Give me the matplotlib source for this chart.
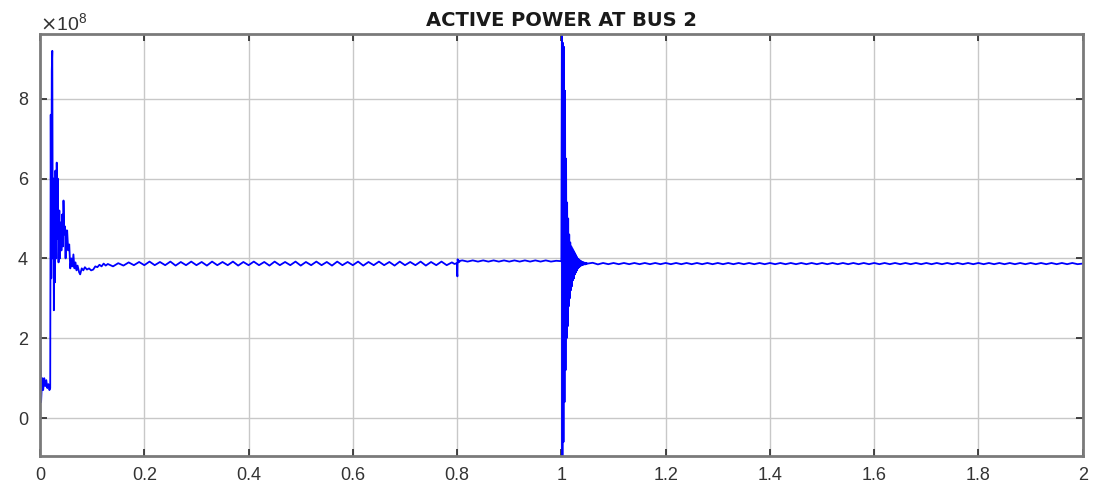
import numpy as np
import matplotlib
matplotlib.use("Agg")
import matplotlib.pyplot as plt
from matplotlib.ticker import ScalarFormatter

# values in units of 1e8 W
start_t = [0.0, 0.0003, 0.002, 0.004, 0.006, 0.008, 0.010, 0.012, 0.014, 0.016,
           0.018, 0.0195, 0.0205, 0.0215, 0.0225, 0.0235, 0.0245, 0.0255, 0.0265, 0.0275,
           0.0285, 0.0295, 0.031, 0.032, 0.033, 0.034, 0.0355, 0.037, 0.038, 0.0395,
           0.041, 0.0425, 0.044, 0.045, 0.0465, 0.048, 0.049, 0.050, 0.051, 0.052,
           0.054, 0.056, 0.058, 0.060, 0.062, 0.064, 0.066, 0.068, 0.070, 0.072,
           0.075, 0.077, 0.080, 0.083, 0.086, 0.090, 0.094, 0.098, 0.102, 0.106,
           0.110, 0.114, 0.118, 0.122, 0.126]
start_p = [-0.95, 2.0, 0.4, 1.0, 0.7, 1.0, 0.8, 0.95, 0.75, 0.85,
           0.7, 0.75, 7.6, 3.5, 8.7, 9.2, 4.0, 6.0, 2.7, 5.5,
           3.4, 6.2, 4.0, 6.4, 4.5, 6.0, 3.9, 5.2, 4.0, 4.9,
           4.2, 5.1, 4.3, 5.45, 4.6, 4.8, 4.0, 4.7, 4.3, 4.7,
           4.2, 4.35, 3.75, 4.0, 3.8, 4.1, 3.75, 3.9, 3.7, 3.82,
           3.65, 3.6, 3.75, 3.7, 3.78, 3.72, 3.75, 3.7, 3.72, 3.8,
           3.78, 3.84, 3.8, 3.87, 3.82]

# steady ripple 0.13 .. 0.79 s, one value every 0.01 s
ripple1_t0, ripple1_dt = 0.13, 0.01
ripple1_p = [3.86, 3.80, 3.88, 3.82, 3.90, 3.83, 3.91, 3.83, 3.92, 3.83,
             3.91, 3.83, 3.92, 3.82, 3.91, 3.83, 3.92, 3.83, 3.91, 3.82,
             3.92, 3.83, 3.91, 3.83, 3.92, 3.82, 3.91, 3.83, 3.92, 3.83,
             3.91, 3.82, 3.92, 3.83, 3.91, 3.83, 3.92, 3.82, 3.91, 3.83,
             3.92, 3.83, 3.91, 3.82, 3.92, 3.83, 3.91, 3.83, 3.92, 3.82,
             3.91, 3.83, 3.92, 3.83, 3.91, 3.82, 3.92, 3.83, 3.91, 3.83,
             3.92, 3.82, 3.91, 3.83, 3.92, 3.83, 3.90]

# small disturbance at 0.8 s
dip_t = [0.795, 0.7995, 0.800, 0.8005, 0.801, 0.802, 0.803, 0.804, 0.806]
dip_p = [3.86, 3.88, 3.62, 3.55, 3.98, 3.90, 3.95, 3.91, 3.94]

# plateau 0.81 .. 0.99 s
ripple2_t0, ripple2_dt = 0.81, 0.01
ripple2_p = [3.95, 3.92, 3.95, 3.92, 3.95, 3.92, 3.95, 3.92, 3.95, 3.92,
             3.95, 3.92, 3.95, 3.92, 3.95, 3.92, 3.95, 3.92, 3.94]

# fault burst 1.000 .. 1.050 s, one value every 1 ms
burst_t0, burst_dt = 1.0, 0.001
burst_p = [3.93, 9.62, -0.95, 9.4, -0.6, 9.3, 0.4, 8.2, 1.2, 6.5,
           2.0, 5.4, 2.3, 5.0, 2.8, 4.6, 3.0, 4.4, 3.2, 4.3,
           3.3, 4.25, 3.45, 4.2, 3.5, 4.15, 3.6, 4.1, 3.65, 4.05,
           3.7, 4.0, 3.75, 3.98, 3.78, 3.96, 3.8, 3.94, 3.82, 3.92,
           3.83, 3.91, 3.84, 3.9, 3.85, 3.89, 3.85, 3.89, 3.86, 3.88,
           3.87]

# steady ripple 1.06 .. 2.00 s
ripple3_t0, ripple3_dt = 1.06, 0.01
ripple3_p = [3.89, 3.85, 3.885, 3.855, 3.885, 3.855, 3.885, 3.855, 3.885, 3.855,
             3.885, 3.855, 3.885, 3.855, 3.885, 3.855, 3.885, 3.855, 3.885, 3.855,
             3.885, 3.855, 3.885, 3.855, 3.885, 3.855, 3.885, 3.855, 3.885, 3.855,
             3.885, 3.855, 3.885, 3.855, 3.885, 3.855, 3.885, 3.855, 3.885, 3.855,
             3.885, 3.855, 3.885, 3.855, 3.885, 3.855, 3.885, 3.855, 3.885, 3.855,
             3.885, 3.855, 3.885, 3.855, 3.885, 3.855, 3.885, 3.855, 3.885, 3.855,
             3.885, 3.855, 3.885, 3.855, 3.885, 3.855, 3.885, 3.855, 3.885, 3.855,
             3.885, 3.855, 3.885, 3.855, 3.885, 3.855, 3.885, 3.855, 3.885, 3.855,
             3.885, 3.855, 3.885, 3.855, 3.885, 3.855, 3.885, 3.855, 3.885, 3.855,
             3.885, 3.855, 3.885, 3.855, 3.87]


def sampled(t0, dt, vals):
    return [t0 + i * dt for i in range(len(vals))]


t = (start_t + sampled(ripple1_t0, ripple1_dt, ripple1_p) + dip_t
     + sampled(ripple2_t0, ripple2_dt, ripple2_p)
     + sampled(burst_t0, burst_dt, burst_p)
     + sampled(ripple3_t0, ripple3_dt, ripple3_p))
p = start_p + ripple1_p + dip_p + ripple2_p + burst_p + ripple3_p
p = np.array(p) * 1e8

plt.rcParams['font.family'] = ['Liberation Sans', 'DejaVu Sans']

fig = plt.figure(figsize=(10.97, 4.94), dpi=100)
ax = fig.add_axes([0.0365, 0.077, 0.9505, 0.854])

ax.plot(t, p, color='#0000ff', linewidth=1.3)

ax.set_xlim(0, 2)
ax.set_ylim(-0.95e8, 9.62e8)
ax.set_xticks([0, 0.2, 0.4, 0.6, 0.8, 1, 1.2, 1.4, 1.6, 1.8, 2])
ax.set_xticklabels(['0', '0.2', '0.4', '0.6', '0.8', '1', '1.2', '1.4', '1.6', '1.8', '2'])
ax.set_yticks([0, 2e8, 4e8, 6e8, 8e8])

fmt = ScalarFormatter(useMathText=True)
fmt.set_powerlimits((0, 0))
ax.yaxis.set_major_formatter(fmt)
ax.yaxis.get_offset_text().set_fontsize(14)
ax.yaxis.get_offset_text().set_color('#404040')

ax.grid(True, color='#c8c8c8', linewidth=1.0)
ax.set_axisbelow(True)
for s in ax.spines.values():
    s.set_color('#7a7a7a')
    s.set_linewidth(2.0)
ax.tick_params(direction='in', length=5, width=1.2, color='#262626',
               labelsize=13, labelcolor='#333333', top=True, right=True, pad=8)

ax.set_title('ACTIVE POWER AT BUS 2', fontsize=14, fontweight='bold',
             family='DejaVu Sans', color='#1a1a1a', pad=6)

fig.savefig('out.png', dpi=100)
